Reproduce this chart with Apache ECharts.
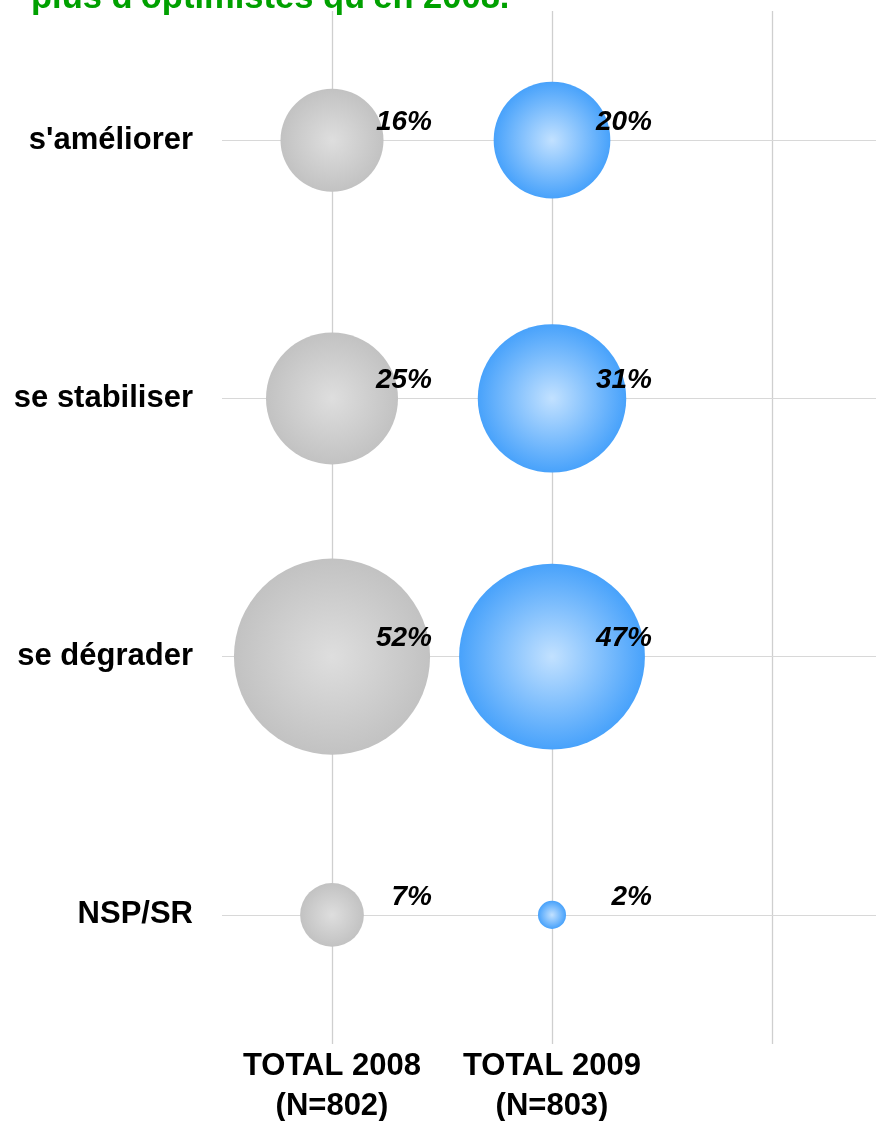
<!DOCTYPE html>
<html>
<head>
<meta charset="utf-8">
<style>
  html, body { margin: 0; padding: 0; background: #fff; }
  #chart { width: 876px; height: 1121px; }
</style>
<script src="https://cdn.jsdelivr.net/npm/echarts@6/dist/echarts.min.js"></script>
</head>
<body>
<div id="chart"></div>
<script>
const categories = ["s'améliorer", 'se stabiliser', 'se dégrader', 'NSP/SR']
const columns = ['TOTAL 2008\n(N=802)', 'TOTAL 2009\n(N=803)', '']
const values2008 = [16, 25, 52, 7]
const values2009 = [20, 31, 47, 2]

const font = 'Liberation Sans, Arial, sans-serif'
const chart = echarts.init(document.getElementById('chart'))

const bubbleSize = d => 29 * Math.sqrt(d[2]) - 13

const pctLabel = {
  show: true,
  position: 'inside',
  align: 'right',
  verticalAlign: 'middle',
  offset: [100, -18],
  formatter: p => p.value[2] + '%',
  color: '#000',
  fontFamily: font,
  fontSize: 28,
  fontWeight: 'bold',
  fontStyle: 'italic'
}

chart.setOption({
  backgroundColor: '#fff',
  animation: false,
  title: {
    text: "plus d'optimistes qu'en 2008.",
    left: 31,
    top: -19,
    padding: 0,
    textStyle: { color: '#00a000', fontFamily: font, fontSize: 34.5, fontWeight: 'bold' }
  },
  grid: { left: 222, width: 660, top: 11, bottom: 77, outerBoundsMode: 'none', containLabel: false },
  xAxis: {
    type: 'category',
    data: columns,
    axisLine: { show: false },
    axisTick: { show: false },
    splitLine: { show: false },
    axisLabel: {
      color: '#000',
      fontFamily: font,
      fontSize: 31,
      fontWeight: 'bold',
      lineHeight: 40,
      margin: 2,
      interval: 0
    }
  },
  yAxis: {
    type: 'category',
    data: categories,
    inverse: true,
    axisLine: { show: false },
    axisTick: { show: false },
    splitLine: { show: false },
    axisLabel: {
      color: '#000',
      fontFamily: font,
      fontSize: 31,
      fontWeight: 'bold',
      margin: 29
    }
  },
  series: [
    {
      // grid lines through the category centres, drawn under the bubbles
      type: 'scatter',
      data: [],
      zlevel: 0,
      silent: true,
      markLine: {
        silent: true,
        symbol: 'none',
        label: { show: false },
        data: [
          { xAxis: 0, lineStyle: { color: '#cfcfcf', width: 1.3, type: 'solid' } },
          { xAxis: 1, lineStyle: { color: '#cfcfcf', width: 1.3, type: 'solid' } },
          { xAxis: 2, lineStyle: { color: '#cfcfcf', width: 1.3, type: 'solid' } },
          { yAxis: 0, lineStyle: { color: '#d8d8d8', width: 1, type: 'solid' } },
          { yAxis: 1, lineStyle: { color: '#d8d8d8', width: 1, type: 'solid' } },
          { yAxis: 2, lineStyle: { color: '#d8d8d8', width: 1, type: 'solid' } },
          { yAxis: 3, lineStyle: { color: '#d8d8d8', width: 1, type: 'solid' } }
        ]
      }
    },
    {
      name: 'TOTAL 2008',
      type: 'scatter',
      zlevel: 1,
      data: values2008.map((v, i) => [columns[0], categories[i], v]),
      symbolSize: bubbleSize,
      itemStyle: {
        opacity: 1,
        color: new echarts.graphic.RadialGradient(0.5, 0.5, 0.5, [
          { offset: 0, color: '#dedede' },
          { offset: 1, color: '#c2c2c2' }
        ])
      },
      label: pctLabel
    },
    {
      name: 'TOTAL 2009',
      type: 'scatter',
      zlevel: 1,
      data: values2009.map((v, i) => [columns[1], categories[i], v]),
      symbolSize: bubbleSize,
      itemStyle: {
        opacity: 1,
        color: new echarts.graphic.RadialGradient(0.5, 0.5, 0.5, [
          { offset: 0, color: '#c2e1ff' },
          { offset: 1, color: '#48a2fb' }
        ])
      },
      label: pctLabel
    }
  ]
})
</script>
</body>
</html>
